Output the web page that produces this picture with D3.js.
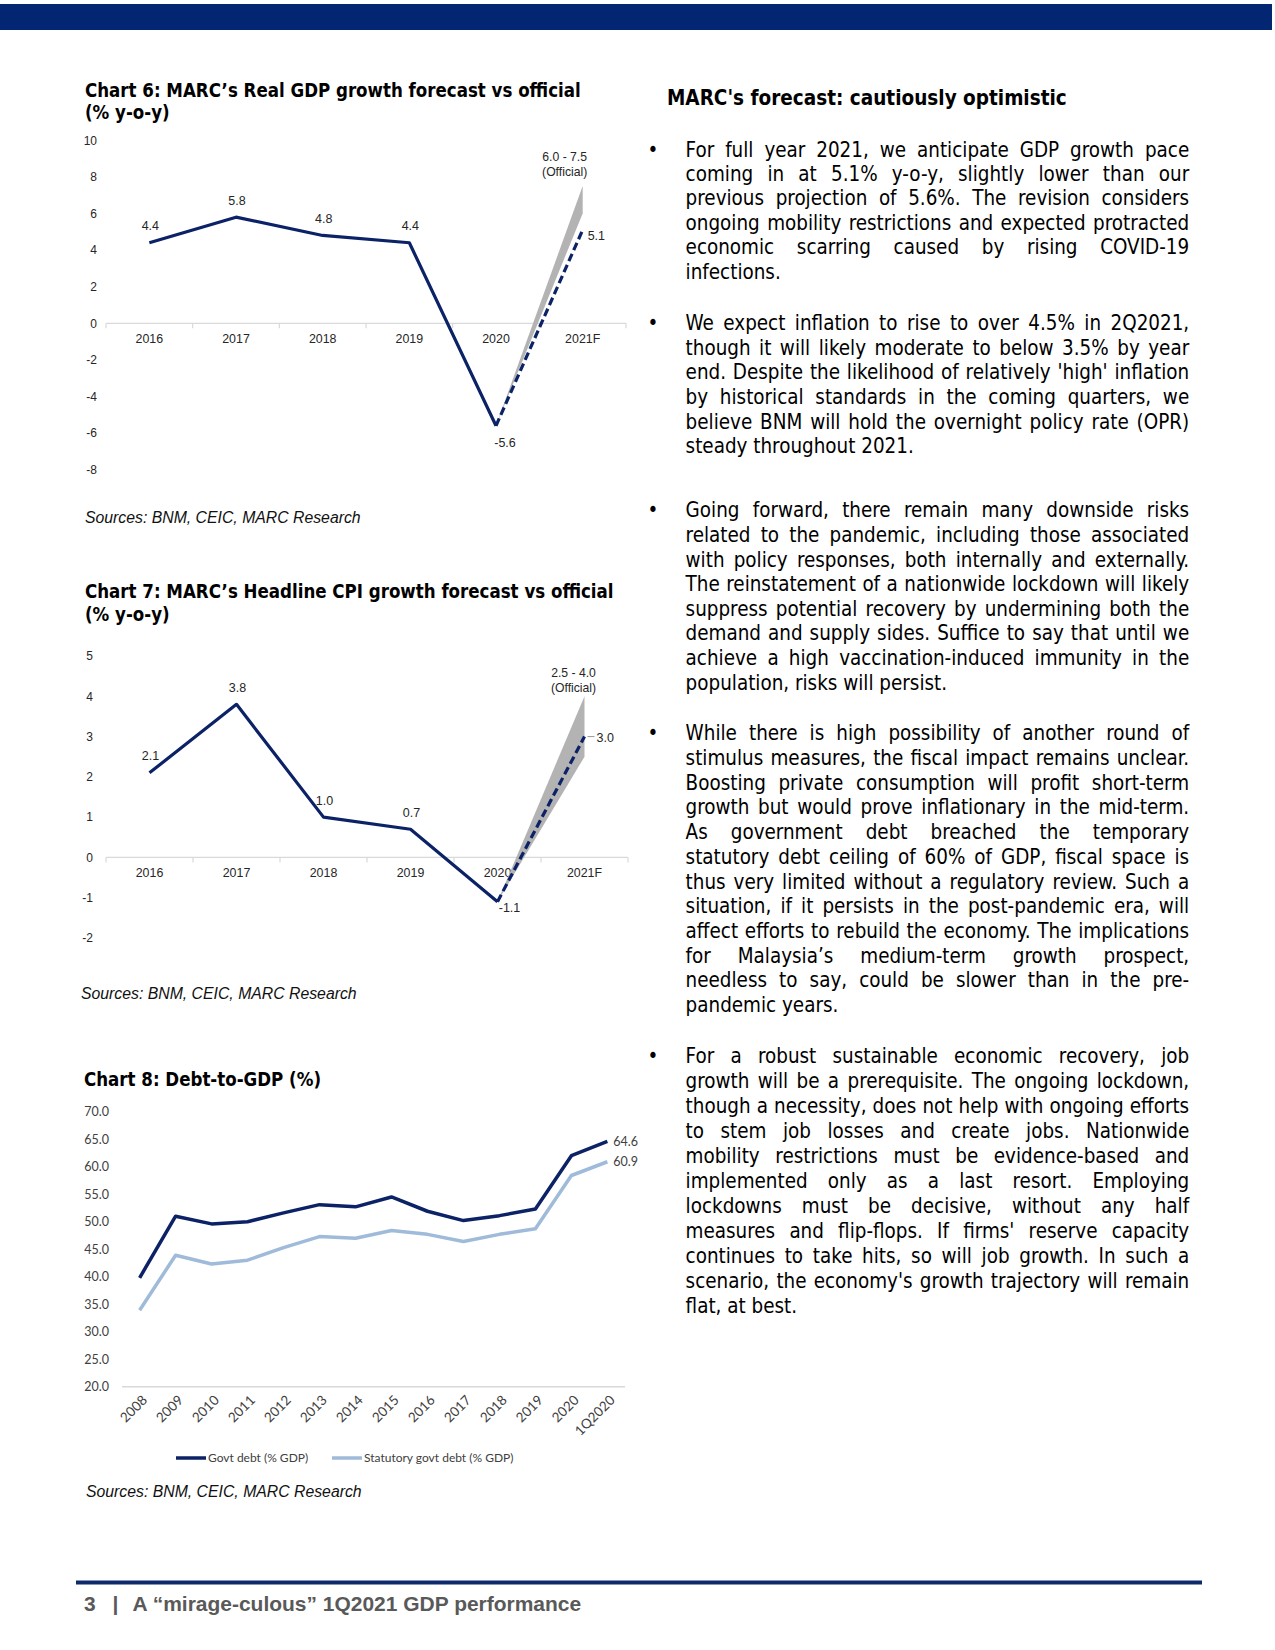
<!DOCTYPE html>
<html>
<head>
<meta charset="utf-8">
<script src="https://d3js.org/d3.v7.min.js"></script>
<style>
  body { margin: 0; background: #fff; }
</style>
</head>
<body>
<svg id="page" width="1275" height="1650"></svg>
<script>
// ---- data ----
const gdpYears = ["2016", "2017", "2018", "2019", "2020", "2021F"];
const gdpActual = [4.4, 5.8, 4.8, 4.4, -5.6];
const gdpForecast = 5.1;
const gdpOfficial = [6.0, 7.5];
const gdpTicks = [-8, -6, -4, -2, 0, 2, 4, 6, 8, 10];

const cpiYears = ["2016", "2017", "2018", "2019", "2020", "2021F"];
const cpiActual = [2.1, 3.8, 1.0, 0.7, -1.1];
const cpiForecast = 3.0;
const cpiOfficial = [2.5, 4.0];
const cpiTicks = [-2, -1, 0, 1, 2, 3, 4, 5];

const debtYears = ["2008", "2009", "2010", "2011", "2012", "2013", "2014", "2015", "2016", "2017", "2018", "2019", "2020", "1Q2020"];
const govtDebt = [39.8, 51.0, 49.6, 50.0, 51.6, 53.1, 52.7, 54.5, 51.9, 50.2, 51.1, 52.3, 62.0, 64.6];
const statDebt = [33.9, 43.9, 42.3, 43.0, 45.3, 47.3, 47.0, 48.4, 47.7, 46.4, 47.7, 48.7, 58.4, 60.9];
const debtTicks = [20, 25, 30, 35, 40, 45, 50, 55, 60, 65, 70];
const debtSeries = ["Govt debt (% GDP)", "Statutory govt debt (% GDP)"];

const chartTitles = [
  ["Chart 6: MARC\u2019s Real GDP growth forecast vs official", "(% y-o-y)"],
  ["Chart 7: MARC\u2019s Headline CPI growth forecast vs official", "(% y-o-y)"],
  ["Chart 8: Debt-to-GDP (%)"]
];
const sourcesText = "Sources: BNM, CEIC, MARC Research";
const headerText = "MARC's forecast: cautiously optimistic";
const footerText = ["3", "|", "A \u201cmirage-culous\u201d 1Q2021 GDP performance"];

const paragraphs = [
  ["For full year 2021, we anticipate GDP growth pace",
   "coming in at 5.1% y-o-y, slightly lower than our",
   "previous projection of 5.6%. The revision considers",
   "ongoing mobility restrictions and expected protracted",
   "economic scarring caused by rising COVID-19",
   "infections."],
  ["We expect inflation to rise to over 4.5% in 2Q2021,",
   "though it will likely moderate to below 3.5% by year",
   "end. Despite the likelihood of relatively 'high' inflation",
   "by historical standards in the coming quarters, we",
   "believe BNM will hold the overnight policy rate (OPR)",
   "steady throughout 2021."],
  ["Going forward, there remain many downside risks",
   "related to the pandemic, including those associated",
   "with policy responses, both internally and externally.",
   "The reinstatement of a nationwide lockdown will likely",
   "suppress potential recovery by undermining both the",
   "demand and supply sides. Suffice to say that until we",
   "achieve a high vaccination-induced immunity in the",
   "population, risks will persist."],
  ["While there is high possibility of another round of",
   "stimulus measures, the fiscal impact remains unclear.",
   "Boosting private consumption will profit short-term",
   "growth but would prove inflationary in the mid-term.",
   "As government debt breached the temporary",
   "statutory debt ceiling of 60% of GDP, fiscal space is",
   "thus very limited without a regulatory review. Such a",
   "situation, if it persists in the post-pandemic era, will",
   "affect efforts to rebuild the economy. The implications",
   "for Malaysia\u2019s medium-term growth prospect,",
   "needless to say, could be slower than in the pre-",
   "pandemic years."],
  ["For a robust sustainable economic recovery, job",
   "growth will be a prerequisite. The ongoing lockdown,",
   "though a necessity, does not help with ongoing efforts",
   "to stem job losses and create jobs. Nationwide",
   "mobility restrictions must be evidence-based and",
   "implemented only as a last resort. Employing",
   "lockdowns must be decisive, without any half",
   "measures and flip-flops. If firms' reserve capacity",
   "continues to take hits, so will job growth. In such a",
   "scenario, the economy's growth trajectory will remain",
   "flat, at best."]
];

// ---- setup ----
const svg = d3.select("svg#page");
const navy = "#0c2266";
const lightBlue = "#9fbbd9";
const band = "#022672";
const axisGrey = "#d9d9d9";
const tahoma = "'DejaVu Sans Condensed', 'DejaVu Sans', sans-serif";
const arial = "'Liberation Sans', Arial, sans-serif";
const calibri = "Lato, 'Open Sans', sans-serif";
const narrow = "'Liberation Sans Narrow', 'Liberation Sans', sans-serif";

//plain hyphen for negatives, like the original charts
const fmt1 = d => d.toFixed(1);
const fmt0 = d => String(d);

//measure text so the fonts we have can be sized to the widths on the page
function measure(str, family, weight, style) {
  const t = svg.append("text")
    .attr("font-family", family)
    .attr("font-size", 100)
    .attr("font-weight", weight || "normal")
    .attr("font-style", style || "normal")
    .style("font-stretch", "condensed")
    .text(str);
  const w = t.node().getComputedTextLength();
  t.remove();
  return w;
}
function fitSize(str, family, width, weight, style) {
  return 100 * width / measure(str, family, weight, style);
}

//top band
svg.append("rect").attr("x", 0).attr("y", 4).attr("width", 1272).attr("height", 26).attr("fill", band);

//titles
const titleSize = fitSize(chartTitles[0][0], tahoma, 496, "bold");
const titlePos = [{x: 85, y: [90, 112.5]}, {x: 85, y: [591.5, 614]}, {x: 84, y: [1079]}];
chartTitles.forEach((lines, i) => {
  lines.forEach((line, j) => {
    svg.append("text")
      .attr("x", titlePos[i].x)
      .attr("y", titlePos[i].y[j])
      .attr("dy", "0.36em")
      .attr("font-family", tahoma)
      .style("font-stretch", "condensed")
      .attr("font-weight", "bold")
      .attr("font-size", titleSize)
      .attr("fill", "#000")
      .text(line);
  });
});

//sources lines
const sourcesSize = fitSize(sourcesText, narrow, 276, "normal", "italic");
[[85, 517], [81, 993], [86, 1491]].forEach(([x, y]) => {
  svg.append("text")
    .attr("x", x).attr("y", y).attr("dy", "0.36em")
    .attr("font-family", narrow)
    .attr("font-style", "italic")
    .attr("font-size", sourcesSize)
    .attr("fill", "#111")
    .text(sourcesText);
});

//forecast charts (6 and 7)
function forecastChart(cfg) {
  const g = svg.append("g");
  const x = d3.scaleBand().domain(cfg.years).range(cfg.xRange);
  const y = d3.scaleLinear().domain(cfg.yDomain).range(cfg.yRange);
  const cx = d => x(d) + x.bandwidth() / 2;
  const y0 = y(0);

  //category axis
  g.append("line")
    .attr("x1", cfg.xRange[0]).attr("x2", cfg.xRange[1])
    .attr("y1", y0).attr("y2", y0)
    .attr("stroke", axisGrey).attr("stroke-width", 1.2);
  g.selectAll("line.tick")
    .data(cfg.years.concat([null]))
    .enter()
    .append("line")
    .attr("class", "tick")
    .attr("x1", d => d === null ? cfg.xRange[1] : x(d))
    .attr("x2", d => d === null ? cfg.xRange[1] : x(d))
    .attr("y1", y0).attr("y2", y0 + 5)
    .attr("stroke", axisGrey).attr("stroke-width", 1.2);
  g.selectAll("text.xlab")
    .data(cfg.years)
    .enter()
    .append("text")
    .attr("class", "xlab")
    .attr("x", d => cx(d))
    .attr("y", y0 + 15)
    .attr("dy", "0.35em")
    .attr("text-anchor", "middle")
    .attr("font-family", arial)
    .attr("font-size", 12.4)
    .attr("fill", "#262626")
    .text(d => d);

  //value axis
  const yAxis = g.append("g")
    .attr("transform", `translate(${cfg.yLabelX},0)`)
    .call(d3.axisLeft(y).tickValues(cfg.ticks).tickSize(0).tickPadding(0).tickFormat(fmt0));
  yAxis.select(".domain").remove();
  yAxis.selectAll("text").attr("font-family", arial).attr("font-size", 12).attr("fill", "#262626");

  //official range wedge
  const last = cfg.years.length - 2;
  const xa = cx(cfg.years[last]);
  const xf = cx(cfg.years[last + 1]);
  const ya = y(cfg.actual[last]);
  g.append("path")
    .attr("d", d3.line()([[xa, ya], [xf, y(cfg.official[0])], [xf, y(cfg.official[1])]]) + "Z")
    .attr("fill", "#b3b3b3");

  //actual line
  const line = d3.line().x((d, i) => cx(cfg.years[i])).y(d => y(d));
  g.append("path")
    .datum(cfg.actual)
    .attr("d", line)
    .attr("fill", "none")
    .attr("stroke", navy)
    .attr("stroke-width", 3.2)
    .attr("stroke-linejoin", "round");

  //forecast dashed line
  g.append("line")
    .attr("x1", xa).attr("y1", ya)
    .attr("x2", xf).attr("y2", y(cfg.forecast))
    .attr("stroke", navy)
    .attr("stroke-width", 3.2)
    .attr("stroke-dasharray", "8,4");

  //data labels
  g.selectAll("text.dlab")
    .data(cfg.actual)
    .enter()
    .append("text")
    .attr("class", "dlab")
    .attr("x", (d, i) => cx(cfg.years[i]) + (i === last ? cfg.lastDx : 1))
    .attr("y", (d, i) => y(d) + (i === last ? cfg.lastDy : -17))
    .attr("dy", "0.35em")
    .attr("text-anchor", "middle")
    .attr("font-family", arial)
    .attr("font-size", 12.5)
    .attr("fill", "#262626")
    .text(d => fmt1(d));

  if (cfg.leader) {
    g.append("line")
      .attr("x1", xf + 3).attr("x2", xf + 10)
      .attr("y1", y(cfg.forecast)).attr("y2", y(cfg.forecast))
      .attr("stroke", "#999").attr("stroke-width", 1);
  }
  g.append("text")
    .attr("x", xf + cfg.fcDx)
    .attr("y", y(cfg.forecast) + cfg.fcDy)
    .attr("dy", "0.35em")
    .attr("font-family", arial)
    .attr("font-size", 12.5)
    .attr("fill", "#262626")
    .text(fmt1(cfg.forecast));

  //official label
  const offLab = g.append("text")
    .attr("text-anchor", "middle")
    .attr("font-family", arial)
    .attr("font-size", 12.2)
    .attr("fill", "#262626");
  offLab.append("tspan")
    .attr("x", xf + cfg.offDx)
    .attr("y", y(cfg.official[1]) + cfg.offDy)
    .attr("dy", "0.35em")
    .text(`${fmt1(cfg.official[0])} - ${fmt1(cfg.official[1])}`);
  offLab.append("tspan")
    .attr("x", xf + cfg.offDx)
    .attr("y", y(cfg.official[1]) + cfg.offDy + 15)
    .attr("dy", "0.35em")
    .text("(Official)");
}

forecastChart({
  years: gdpYears, actual: gdpActual, forecast: gdpForecast, official: gdpOfficial,
  ticks: gdpTicks, yDomain: [-8, 10], yRange: [469.7, 140.3], xRange: [106, 626],
  yLabelX: 97, fcDx: 5, fcDy: 6, leader: false, offDx: -18, offDy: -29,
  lastDx: 9, lastDy: 17
});

forecastChart({
  years: cpiYears, actual: cpiActual, forecast: cpiForecast, official: cpiOfficial,
  ticks: cpiTicks, yDomain: [-2, 5], yRange: [938, 656], xRange: [106, 628],
  yLabelX: 93, fcDx: 12, fcDy: 1, leader: true, offDx: -11, offDy: -24,
  lastDx: 12, lastDy: 6
});

//debt-to-GDP chart (8)
{
  const g = svg.append("g");
  const x = d3.scalePoint().domain(debtYears).range([122, 625]).padding(0.49);
  const y = d3.scaleLinear().domain([20, 70]).range([1386.7, 1111.7]);

  g.append("line")
    .attr("x1", 122).attr("x2", 625)
    .attr("y1", y(20)).attr("y2", y(20))
    .attr("stroke", axisGrey).attr("stroke-width", 1.5);

  const yAxis = g.append("g")
    .attr("transform", "translate(109,0)")
    .call(d3.axisLeft(y).tickValues(debtTicks).tickSize(0).tickPadding(0).tickFormat(fmt1));
  yAxis.select(".domain").remove();
  yAxis.selectAll("text").attr("font-family", calibri).attr("font-size", 12.5).attr("fill", "#404040");

  g.selectAll("text.xlab")
    .data(debtYears)
    .enter()
    .append("text")
    .attr("class", "xlab")
    .attr("transform", d => `translate(${x(d) + 5},${y(20) + 11}) rotate(-45)`)
    .attr("text-anchor", "end")
    .attr("dy", "0.35em")
    .attr("font-family", calibri)
    .attr("font-size", 13.5)
    .attr("fill", "#404040")
    .text(d => d);

  const line = d3.line().x((d, i) => x(debtYears[i])).y(d => y(d));
  [[statDebt, lightBlue], [govtDebt, navy]].forEach(([values, color]) => {
    g.append("path")
      .datum(values)
      .attr("d", line)
      .attr("fill", "none")
      .attr("stroke", color)
      .attr("stroke-width", 3.5)
      .attr("stroke-linejoin", "round");
    g.append("text")
      .attr("x", x(debtYears[debtYears.length - 1]) + 6)
      .attr("y", y(values[values.length - 1]))
      .attr("dy", "0.35em")
      .attr("font-family", calibri)
      .attr("font-size", 12.5)
      .attr("fill", "#404040")
      .text(fmt1(values[values.length - 1]));
  });

  //legend
  const legend = g.append("g").attr("transform", "translate(176,1458)");
  [[debtSeries[0], navy, 0], [debtSeries[1], lightBlue, 156]].forEach(([name, color, dx]) => {
    legend.append("line")
      .attr("x1", dx).attr("x2", dx + 30)
      .attr("y1", 0).attr("y2", 0)
      .attr("stroke", color).attr("stroke-width", 3.5);
    legend.append("text")
      .attr("x", dx + 32)
      .attr("y", 0)
      .attr("dy", "0.35em")
      .attr("font-family", calibri)
      .attr("font-size", 12)
      .attr("fill", "#404040")
      .text(name);
  });
}

//right column text
const headerSize = fitSize(headerText, tahoma, 400, "bold");
svg.append("text")
  .attr("x", 667).attr("y", 98).attr("dy", "0.36em")
  .attr("font-family", tahoma)
  .style("font-stretch", "condensed")
  .attr("font-weight", "bold")
  .attr("font-size", headerSize)
  .attr("fill", "#000")
  .text(headerText);

const bodySize = fitSize(paragraphs[1][2], tahoma, 497);
const textX = 685.6, textW = 503.6;
const paraStart = [149.3, 322.8, 510, 733, 1055.7];
const paraLead = [24.4, 24.6, 24.6, 24.7, 25.0];

const body = svg.append("g")
  .attr("font-family", tahoma)
  .style("font-stretch", "condensed")
  .attr("font-size", bodySize)
  .attr("fill", "#000");

paragraphs.forEach((lines, p) => {
  body.append("text")
    .attr("x", 653).attr("y", paraStart[p]).attr("dy", "0.36em")
    .attr("text-anchor", "middle")
    .text("\u2022");
  lines.forEach((str, i) => {
    const yy = paraStart[p] + i * paraLead[p];
    const lineG = body.append("g");
    if (i === lines.length - 1) {
      lineG.append("text").attr("x", textX).attr("y", yy).attr("dy", "0.36em").text(str);
      return;
    }
    //justify: spread the words to the full column width
    const words = str.split(" ");
    const nodes = words.map(w => lineG.append("text").attr("y", yy).attr("dy", "0.36em").text(w));
    const widths = nodes.map(n => n.node().getComputedTextLength());
    const gap = (textW - d3.sum(widths)) / (words.length - 1);
    let xx = textX;
    nodes.forEach((n, k) => {
      n.attr("x", xx);
      xx += widths[k] + gap;
    });
  });
});

//footer
svg.append("line")
  .attr("x1", 76).attr("x2", 1202)
  .attr("y1", 1582.5).attr("y2", 1582.5)
  .attr("stroke", "#0d2a6b").attr("stroke-width", 4);
const footSize = fitSize(footerText[2], narrow, 449, "bold");
[[84, footerText[0]], [112.5, footerText[1]], [132.5, footerText[2]]].forEach(([x, t]) => {
  svg.append("text")
    .attr("x", x).attr("y", 1603.5).attr("dy", "0.36em")
    .attr("font-family", narrow)
    .attr("font-weight", "bold")
    .attr("font-size", footSize)
    .attr("fill", "#595959")
    .text(t);
});
</script>
</body>
</html>
